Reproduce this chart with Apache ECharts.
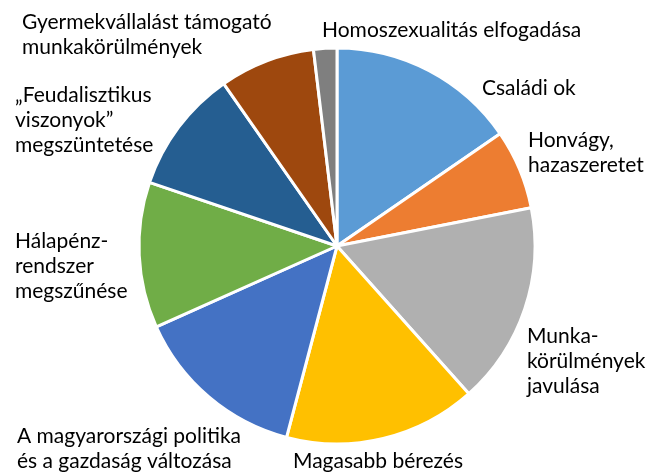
<!DOCTYPE html>
<html>
<head>
<meta charset="utf-8">
<title>Pie</title>
<script src="https://cdn.jsdelivr.net/npm/echarts@6/dist/echarts.min.js"></script>
<style>
  html, body { margin: 0; padding: 0; background: #fff; }
  #chart { width: 646px; height: 475px; }
</style>
</head>
<body>
<div id="chart"></div>
<script>
// data (shares, %)
var names = [
  'Családi ok',
  'Honvágy,\nhazaszeretet',
  'Munka-\nkörülmények\njavulása',
  'Magasabb bérezés',
  'A magyarországi politika\nés a gazdaság változása',
  'Hálapénz-\nrendszer\nmegszűnése',
  '„Feudalisztikus\nviszonyok”\nmegszüntetése',
  'Gyermekvállalást támogató\nmunkakörülmények',
  'Homoszexualitás elfogadása'
];
var values = [15.4, 6.5, 16.5, 15.7, 14.2, 11.9, 10.1, 7.8, 1.9];
var colors = ['#5B9BD5', '#ED7D31', '#B0B0B0', '#FFC000', '#4472C4', '#70AD47', '#255E91', '#9E480E', '#7F7F7F'];

// label top-left anchors, same order as names
var labelPos = [
  [482, 76], [528, 128], [527, 324], [293, 449], [17, 424],
  [15, 229], [15, 83], [22, 10], [322, 18]
];

var chart = echarts.init(document.getElementById('chart'));
chart.setOption({
  animation: false,
  series: [{
    type: 'pie',
    center: [337, 246],
    radius: 198,
    startAngle: 90,
    clockwise: true,
    data: names.map(function (n, i) {
      return { name: n, value: values[i], itemStyle: { color: colors[i] } };
    }),
    itemStyle: { borderColor: '#fff', borderWidth: 3 },
    label: {
      show: true,
      position: 'outside',
      formatter: '{b}',
      fontFamily: 'Lato',
      fontSize: 21,
      lineHeight: 25,
      color: '#000',
      overflow: 'none',
      width: 400
    },
    labelLine: { show: false },
    labelLayout: function (p) {
      var pos = labelPos[p.dataIndex];
      return { x: pos[0], y: pos[1], align: 'left', verticalAlign: 'top', moveOverlap: false };
    }
  }]
});
</script>
</body>
</html>
